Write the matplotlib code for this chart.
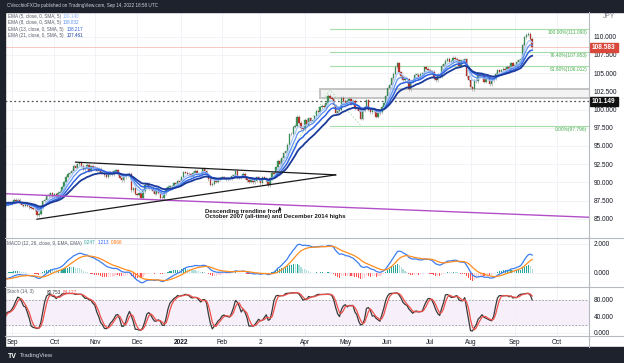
import numpy as np
import pandas as pd
import matplotlib
matplotlib.use("Agg")
import matplotlib.pyplot as plt
from matplotlib.patches import Rectangle
from matplotlib.lines import Line2D

plt.rcParams["font.family"] = ["Liberation Sans", "DejaVu Sans"]

# CAD/JPY daily closes, one list per month (Jul/Aug 2021 only warm up the averages)
jul21 = [89.6, 89.2, 89.4, 89.0, 88.4, 88.0, 88.3, 88.5, 88.6, 88.2, 87.9, 87.4, 87.0, 86.9, 87.5, 88.0, 88.4, 88.3, 88.1, 87.7, 88.2, 87.9]
aug21 = [87.6, 87.5, 87.4, 87.8, 88.1, 88.0, 88.2, 88.4, 88.2, 87.9, 87.5, 87.0, 86.8, 86.2, 85.6, 85.8, 86.7, 86.9, 87.0, 86.9, 87.2, 87.1]
sep21 = [87.3, 87.6, 87.5, 87.6, 87.2, 86.9, 86.8, 87.1, 86.8, 86.6, 86.5, 86.4, 86.3, 85.5, 85.7, 86.6, 87.4, 87.6, 88.1, 88.3, 88.5, 88.0]
oct21 = [88.4, 88.0, 88.6, 88.7, 89.3, 90.0, 90.8, 91.2, 91.3, 91.6, 92.3, 92.0, 92.5, 92.6, 92.3, 91.8, 92.0, 92.4, 91.6, 92.2, 92.1]
nov21 = [92.0, 91.6, 91.9, 91.3, 91.3, 91.0, 90.8, 91.1, 91.3, 91.1, 91.5, 91.7, 91.1, 90.6, 90.3, 90.7, 90.9, 91.1, 91.2, 88.9, 89.2, 88.4]
dec21 = [88.3, 88.5, 87.9, 88.8, 89.7, 89.8, 89.1, 89.1, 88.8, 88.4, 89.1, 88.6, 87.9, 87.8, 88.5, 89.1, 89.4, 89.5, 89.5, 89.9, 89.8, 90.2, 90.0]
jan22 = [90.7, 91.4, 91.3, 91.2, 91.1, 90.9, 91.3, 91.6, 91.2, 91.1, 91.3, 91.9, 91.5, 91.0, 90.4, 89.7, 89.8, 90.3, 90.1, 90.4, 90.6]
feb22 = [90.7, 90.6, 90.4, 90.6, 90.5, 90.9, 90.9, 91.5, 90.6, 90.7, 90.8, 91.2, 90.6, 90.3, 90.1, 90.4, 90.0, 90.2, 90.7, 90.4]
mar22 = [89.9, 90.7, 90.6, 90.2, 89.6, 90.6, 91.3, 91.2, 92.1, 93.0, 92.5, 93.4, 94.0, 94.3, 95.2, 96.6, 96.7, 97.6, 97.8, 99.0, 98.2, 97.4, 97.3]
apr22 = [98.6, 97.9, 98.8, 98.4, 98.5, 99.1, 99.8, 99.7, 100.3, 100.5, 100.4, 100.9, 101.9, 101.6, 101.5, 100.6, 99.5, 99.8, 100.0, 101.6, 101.2]
may22 = [100.8, 101.2, 101.5, 100.8, 101.2, 100.2, 100.1, 99.8, 98.7, 99.8, 100.3, 101.3, 100.0, 99.6, 99.9, 100.0, 99.0, 99.5, 99.6, 100.4, 100.9, 101.8]
jun22 = [103.0, 103.4, 104.3, 104.9, 105.9, 106.4, 105.1, 104.6, 104.0, 104.2, 104.2, 102.8, 103.8, 104.1, 104.8, 104.8, 104.3, 104.9, 105.0, 105.8, 105.6, 105.4]
jul22 = [105.3, 105.2, 104.3, 104.0, 104.8, 104.6, 106.0, 106.2, 106.7, 107.0, 106.6, 106.6, 107.1, 107.0, 106.8, 106.0, 106.8, 106.8, 106.9, 104.6, 104.1]
aug22 = [103.1, 102.8, 104.0, 103.9, 104.7, 104.6, 104.7, 103.8, 104.2, 104.3, 103.5, 104.0, 104.2, 104.9, 105.4, 105.2, 105.4, 105.6, 105.5, 105.9, 105.6, 106.4, 105.9]
sep22 = [106.1, 106.6, 106.8, 107.0, 108.9, 109.9, 110.3, 110.4, 109.7, 108.583]

month_labels = ["Sep", "Oct", "Nov", "Dec", "2022", "Feb", "2", "Apr", "May", "Jun", "Jul", "Aug", "Sep", "Oct"]

# drawings on the chart
purple_dates = ["2021-08-26", "2022-10-31"]
purple_prices = [88.45, 85.17]
tri_upper_dates = ["2021-10-18", "2022-04-25"]
tri_upper_prices = [92.78, 91.03]
tri_lower_dates = ["2021-09-20", "2022-04-25"]
tri_lower_prices = [84.94, 91.03]
fib_levels = [111.090, 107.953, 106.012, 97.796]
fib_texts = ["100.00%(111.090)", "76.40%(107.953)", "61.80%(106.012)", "0.00%(97.796)"]
fib_start = "2022-04-20"
fib_anchor_dates = ["2022-03-07", "2022-04-20", "2022-05-12"]
fib_anchor_prices = [89.4, 102.7, 97.796]
zone_start = "2022-04-13"
zone_low, zone_high = 101.6, 102.8
support = 101.149
note_date, note_price = "2022-01-19", 85.66
arrow_date, arrow_prices = "2022-03-15", [85.95, 87.05]

ema_periods = [5, 8, 13, 21]
ema_values = ["109.140", "108.832", "108.217", "107.461"]
macd_values = ["0.247", "1.213", "0.966"]
stoch_values = ["80.753", "84.127"]

closes = np.array(jul21 + aug21 + sep21 + oct21 + nov21 + dec21 + jan22 + feb22
                  + mar22 + apr22 + may22 + jun22 + jul22 + aug22 + sep22)
all_days = pd.bdate_range("2021-07-01", "2022-11-30")
x = np.arange(len(closes))


def xi(d):
    return all_days.get_loc(pd.Timestamp(d))


wick = 0.2  # drawn wick length past the body, price units
opens = np.r_[closes[0], closes[:-1]]
body_lo = np.minimum(opens, closes)
body_hi = np.maximum(opens, closes)

s = pd.Series(closes)
emas = [s.ewm(span=n, adjust=False).mean().values for n in ema_periods]
macd = s.ewm(span=12, adjust=False).mean() - s.ewm(span=26, adjust=False).mean()
signal = macd.ewm(span=9, adjust=False).mean()
hist = (macd - signal).values
lo14 = pd.Series(body_lo - wick).rolling(14, min_periods=1).min()
hi14 = pd.Series(body_hi + wick).rolling(14, min_periods=1).max()
raw_k = 100 * (s - lo14) / (hi14 - lo14)
k = raw_k.rolling(3, min_periods=1).mean()
d = k.rolling(3, min_periods=1).mean()

W, H = 624, 363
fig = plt.figure(figsize=(W / 100, H / 100), dpi=100)
fig.patch.set_facecolor("white")


def box(x0, y0, x1, y1):
    return [x0 / W, 1 - y1 / H, (x1 - x0) / W, (y1 - y0) / H]


def ftext(px, py, txt, **kw):
    fig.text(px / W, 1 - py / H, txt, va="center", **kw)


ax = fig.add_axes(box(5, 12, 589, 238))
ax2 = fig.add_axes(box(5, 238, 589, 287))
ax3 = fig.add_axes(box(5, 287, 589, 336))

month_pos = []
for lab_month in pd.period_range("2021-09", "2022-10", freq="M"):
    month_pos.append(np.argmax(all_days.to_period("M") == lab_month))

for a in (ax, ax2, ax3):
    a.set_xlim(40.4, 343.5)
    for sp in a.spines.values():
        sp.set_visible(False)
    a.yaxis.tick_right()
    a.tick_params(axis="y", length=0, pad=3.2, labelsize=4.7, colors="#131722")
    a.tick_params(axis="x", length=0)
    a.set_xticks(month_pos)
    a.grid(True, color="#eff1f5", lw=0.6)
    a.set_axisbelow(True)
ax.set_xticklabels([])
ax2.set_xticklabels([])
ax3.set_xticklabels(month_labels)
ax3.tick_params(axis="x", labelsize=4.7, colors="#131722", pad=2.5)
for lab in ax3.get_xticklabels():
    if lab.get_text() == "2022":
        lab.set_fontweight("bold")

# main pane
ax.set_ylim(82.36, 113.4)
ax.set_yticks(np.arange(85, 111, 2.5))
ax.set_yticklabels(["%.3f" % v for v in np.arange(85, 111, 2.5)])

up = closes >= opens
body_h = np.maximum(body_hi - body_lo, 0.06)
ax.vlines(x, body_lo - wick, body_hi + wick, color="#a8aab0", lw=0.5, zorder=2)
ax.bar(x[up], body_h[up], bottom=body_lo[up], width=0.75,
       color="#3e9a5c", edgecolor="#2c6e41", lw=0.2, zorder=3)
ax.bar(x[~up], body_h[~up], bottom=body_lo[~up], width=0.75,
       color="#c0392b", edgecolor="#8a2a20", lw=0.2, zorder=3)

ema_colors = ["#a9c6f7", "#5d91f0", "#2f62e0", "#1b3a9a"]
for e, c, lw in zip(emas, ema_colors, [0.9, 0.9, 1.1, 1.3]):
    ax.plot(x, e, color=c, lw=lw, zorder=4)

ax.plot([xi(v) for v in purple_dates], purple_prices, color="#b24fc8", lw=1.0, zorder=5)
ax.plot([xi(v) for v in tri_upper_dates], tri_upper_prices, color="#1a1a1a", lw=0.9, zorder=5)
ax.plot([xi(v) for v in tri_lower_dates], tri_lower_prices, color="#1a1a1a", lw=0.9, zorder=5)

ax.add_patch(Rectangle((xi(zone_start), zone_low), 400, zone_high - zone_low,
                       facecolor="#f3f3f3", edgecolor="#c4c4c4", lw=1.4, zorder=1))
ax.axhline(support, color="#555555", lw=0.9, ls=(0, (1.5, 2)), zorder=1)
ax.axhline(closes[-1], color="#f7c6c2", lw=0.7, zorder=1)

for lv, t in zip(fib_levels, fib_texts):
    ax.plot([xi(fib_start), 343.2], [lv, lv], color="#a6dca8", lw=0.8, zorder=1)
    ax.text(342.5, lv - 0.15, t, ha="right", va="top", fontsize=3.5, color="#4caf50", zorder=6)
ax.plot([xi(v) for v in fib_anchor_dates], fib_anchor_prices, color="#a6dca8", lw=0.6,
        ls=(0, (2, 2)), zorder=1)

ax.text(xi(note_date), note_price, "Descending trendline from\nOctober 2007 (all-time) and December 2014 highs",
        fontsize=4.3, fontweight="bold", color="#1a1a1a", va="center", ha="left", linespacing=1.05)
ax.annotate("", xy=(xi(arrow_date), arrow_prices[1]), xytext=(xi(arrow_date), arrow_prices[0]),
            arrowprops=dict(arrowstyle="-|>", color="#1a1a1a", lw=0.7, mutation_scale=4))

# MACD pane
ax2.set_ylim(-0.97, 2.41)
ax2.set_yticks([0, 2])
ax2.set_yticklabels(["0.000", "2.000"])
hist_prev = np.r_[hist[0], hist[:-1]]
hcol = np.where(hist >= 0, np.where(hist >= hist_prev, "#26a69a", "#b2dfdb"),
                np.where(hist < hist_prev, "#ff5252", "#ffcdd2"))
ax2.bar(x, hist, width=0.6, color=hcol, zorder=2)
ax2.plot(x, macd, color="#3d7ff0", lw=0.9, zorder=3)
ax2.plot(x, signal, color="#ff8c1f", lw=0.9, zorder=3)

# stochastic pane
ax3.set_ylim(-7.3, 111.5)
ax3.set_yticks([0, 40, 80])
ax3.set_yticklabels(["0.000", "40.000", "80.000"])
ax3.axhspan(20, 80, color="#f7f0fa", zorder=0)
for lv in (20, 80):
    ax3.axhline(lv, color="#9a9a9a", lw=0.6, ls=(0, (2, 2)), zorder=1)
ax3.plot(x, k, color="#3a3a3a", lw=0.9, zorder=3)
ax3.plot(x, d, color="#f0504a", lw=0.9, zorder=3)

# frame, separators, dark bands
for yy in (238, 287, 336):
    fig.add_artist(Line2D([5 / W, 1], [1 - yy / H] * 2, color="#b6b9c0", lw=0.8))
fig.add_artist(Line2D([589 / W] * 2, [1 - 12 / H, 1 - 347 / H], color="#b6b9c0", lw=0.8))
dark = "#1e222d"
fig.add_artist(Rectangle((0, 1 - 12 / H), 1, 12 / H, color=dark, transform=fig.transFigure))
fig.add_artist(Rectangle((0, 0), 1, 16 / H, color=dark, transform=fig.transFigure))
fig.add_artist(Rectangle((0, 0), 5 / W, 1, color=dark, transform=fig.transFigure))

ftext(7, 6, "CVecchioFXCle published on TradingView.com, Sep 14, 2022 18:58 UTC", fontsize=3.3, color="#d1d4dc")
ftext(8, 356, "TV", fontsize=5, fontweight="bold", color="white")
ftext(20, 356, "TradingView", fontsize=4.3, color="#d1d4dc")
ftext(603, 17, "JPY", fontsize=4.8, color="#787b86")

ema_val_x = [63, 63, 67, 67]
for i, (n, val, c) in enumerate(zip(ema_periods, ema_values, ema_colors)):
    ftext(8, 16.5 + 6.3 * i, "EMA (%d, close, 0, SMA, 5)" % n, fontsize=3.35, color="#555a66")
    ftext(ema_val_x[i], 16.5 + 6.3 * i, val, fontsize=3.35, color=c if i else "#8fb3f5")

ftext(7, 243, "MACD (12, 26, close, 9, EMA, EMA)", fontsize=3.35, color="#555a66")
for px, val, c in zip([84, 98, 111], macd_values, ["#26a69a", "#2962ff", "#ff6d00"]):
    ftext(px, 243, val, fontsize=3.35, color=c)
ftext(7, 292, "Stoch (14, 3)", fontsize=3.35, color="#555a66")
ftext(47, 292, stoch_values[0], fontsize=3.35, color="#333333")
ftext(63, 292, stoch_values[1], fontsize=3.35, color="#f0504a")

# price boxes on the axis
for yv, txt, bg in [(closes[-1], "108.583", "#d9473b"), (support, "101.149", "#111111")]:
    ypx = 237 - (yv - 82.5) * 7.28
    fig.add_artist(Rectangle((590 / W, 1 - (ypx + 4.5) / H), 28 / W, 9 / H, color=bg,
                             transform=fig.transFigure))
    ftext(592, ypx, txt, fontsize=4.7, color="white", fontweight="bold")

fig.savefig("out.png", dpi=100)
